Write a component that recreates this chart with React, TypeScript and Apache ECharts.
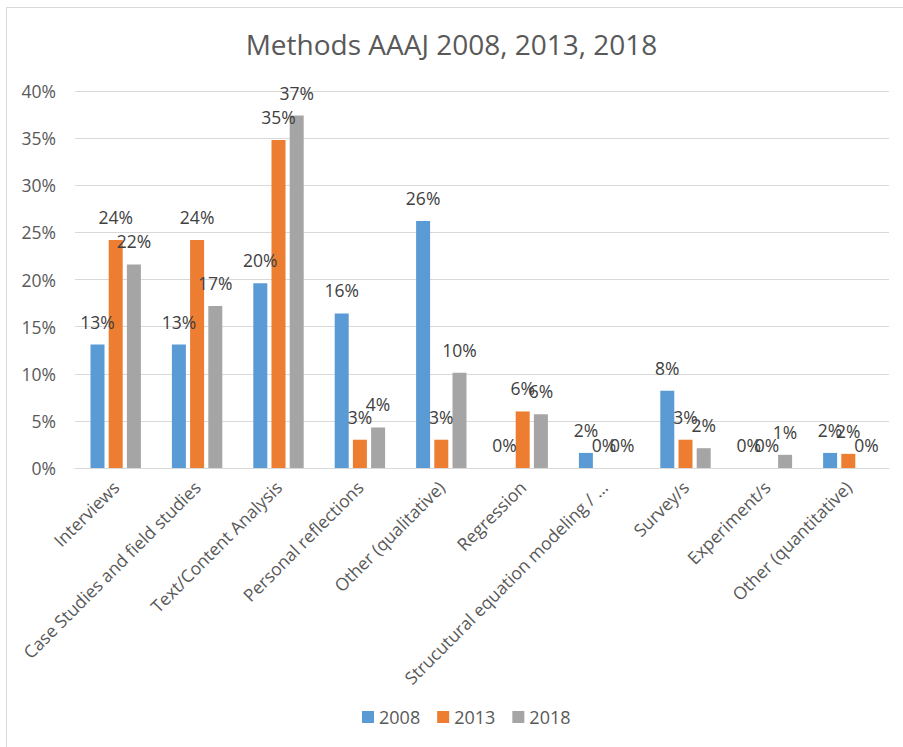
import React, { useEffect, useRef } from "react";
import * as echarts from "echarts";

const categories = [
  "Interviews",
  "Case Studies and field studies",
  "Text/Content Analysis",
  "Personal reflections",
  "Other (qualitative)",
  "Regression",
  "Strucutural equation modeling / …",
  "Survey/s",
  "Experiment/s",
  "Other (quantitative)",
];
const seriesNames = ["2008", "2013", "2018"];
const values2008 = [13.1, 13.1, 19.6, 16.4, 26.2, 0, 1.6, 8.2, 0, 1.6];
const values2013 = [24.2, 24.2, 34.8, 3.0, 3.0, 6.0, 0, 3.0, 0, 1.5];
const values2018 = [21.6, 17.2, 37.4, 4.3, 10.1, 5.7, 0, 2.1, 1.4, 0];
const yTicks = { min: 0, max: 40, interval: 5 };
const titleText = "Methods AAAJ 2008, 2013, 2018";

const colors = ["#5B9BD5", "#ED7D31", "#A5A5A5"];
const FONT = "'Open Sans', sans-serif";

export default function App() {
  const ref = useRef<HTMLDivElement>(null);
  useEffect(() => {
    if (!ref.current) return;
    const chart = echarts.init(ref.current, null, { renderer: "svg" });
    const all = [values2008, values2013, values2018];
    chart.setOption({
      animation: false,
      backgroundColor: "#ffffff",
      title: {
        text: titleText,
        left: "center",
        top: 25,
        textStyle: { fontFamily: FONT, fontSize: 28, fontWeight: "normal", color: "#595959" },
      },
      graphic: [
        {
          type: "rect",
          shape: { x: 6.5, y: 7.5, width: 1000, height: 1000 },
          style: { fill: "none", stroke: "#d9d9d9", lineWidth: 1 },
          silent: true,
        },
      ],
      legend: {
        data: seriesNames,
        left: 362,
        top: 708,
        padding: 0,
        icon: "rect",
        itemWidth: 12,
        itemHeight: 12,
        itemGap: 17,
        textStyle: { fontFamily: FONT, fontSize: 18, color: "#595959" },
      },
      grid: { left: 75, right: 14, top: 91, bottom: 279, containLabel: false },
      xAxis: {
        type: "category",
        data: categories,
        axisTick: { show: false },
        axisLine: { lineStyle: { color: "#d9d9d9", width: 1 } },
        axisLabel: {
          interval: 0,
          rotate: 45,
          margin: 16,
          fontFamily: FONT,
          fontSize: 17.5,
          color: "#595959",
        },
      },
      yAxis: {
        type: "value",
        min: yTicks.min,
        max: yTicks.max,
        interval: yTicks.interval,
        axisLine: { show: false },
        axisTick: { show: false },
        splitLine: { lineStyle: { color: "#d9d9d9", width: 1 } },
        axisLabel: {
          margin: 19,
          formatter: "{value}%",
          fontFamily: FONT,
          fontSize: 17.5,
          color: "#595959",
        },
      },
      series: seriesNames.map((name, i) => ({
        name,
        type: "bar",
        data: all[i],
        barWidth: 14,
        barGap: "30%",
        itemStyle: { color: colors[i] },
        label: {
          show: true,
          position: "top",
          distance: 14,
          formatter: (p: any) => Math.round(p.value) + "%",
          fontFamily: FONT,
          fontSize: 17.5,
          color: "#404040",
        },
      })),
    });
    return () => chart.dispose();
  }, []);
  return (
    <div
      ref={ref}
      style={{ position: "absolute", left: 0, top: 0, width: 903, height: 747 }}
    />
  );
}
